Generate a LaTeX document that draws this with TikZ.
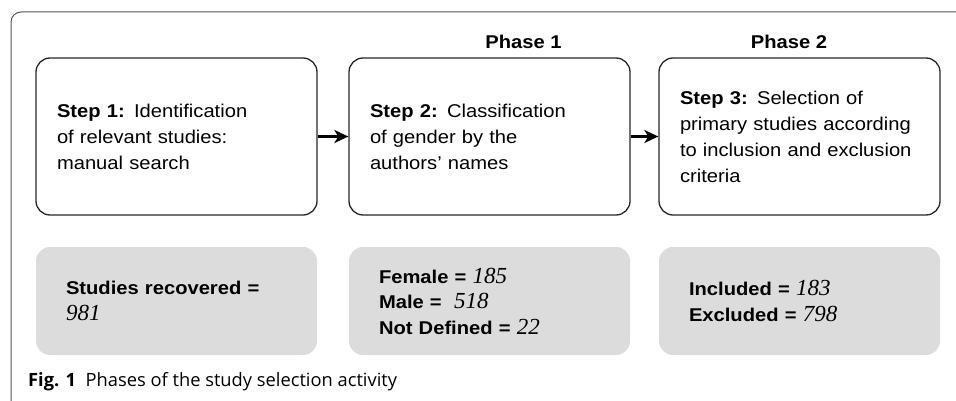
\documentclass[tikz,border=0pt]{standalone}
\usepackage{fontspec}
\setmainfont{Liberation Sans}[FakeStretch=1.09]
\newfontfamily\numfont{Liberation Serif}
\newfontfamily\capfont{Open Sans}
\usetikzlibrary{arrows.meta}
\definecolor{greybox}{HTML}{DCDCDC}
\definecolor{framecol}{HTML}{555555}
\newcommand{\nm}[1]{{\numfont\itshape\mdseries\fontsize{23}{25}\selectfont #1}}
\begin{document}
\begin{tikzpicture}[x=1pt,y=-1pt,
  stepbox/.style={draw=black!85,line width=1.3pt,rounded corners=14pt,
    minimum width=281pt,minimum height=157pt,text width=239pt,inner xsep=21pt,
    align=left,font=\fontsize{18.5}{26}\selectfont},
  resbox/.style={fill=greybox,rounded corners=14pt,
    minimum width=281pt,minimum height=108pt,text width=221pt,inner xsep=30pt,
    align=left,font=\fontsize{18.5}{25.5}\selectfont\bfseries},
  phaselbl/.style={font=\fontsize{18.5}{22}\selectfont\bfseries},
  flow/.style={line width=2.2pt,-{Stealth[length=14pt,width=13pt,inset=4pt]}},
  num/.style={}]
\useasboundingbox (0,0) rectangle (956,401);
\draw[framecol,line width=1pt,rounded corners=10pt] (11,402) -- (11,12) -- (960,12);
\node[phaselbl] (p1) at (523.5,42) {Phase 1};
\node[phaselbl] (p2) at (789,42) {Phase 2};
\node[stepbox] (s1) at (176.5,136.5) {\textbf{Step 1:} Identification\\of relevant studies:\\manual search};
\node[stepbox] (s2) at (489.5,136.5) {\textbf{Step 2:} Classification\\of gender by the\\authors' names};
\node[stepbox] (s3) at (799.5,136.5) {\textbf{Step 3:} Selection of\\primary studies according\\to inclusion and exclusion\\criteria};
\draw[flow] (s1.east) -- (s2.west);
\draw[flow] (s2.east) -- (s3.west);
\node[resbox] (r1) at (176.5,301) {Studies recovered =\\\nm{981}};
\node[resbox] (r2) at (489.5,301) {Female = \nm{185}\\Male = \ \nm{518}\\Not Defined = \nm{22}};
\node[resbox] (r3) at (799.5,301) {Included = \nm{183}\\Excluded = \nm{798}};
\node[anchor=west,inner sep=0pt,font=\capfont\fontsize{18.3}{20}\selectfont] (cap) at (28,382) {\textbf{Fig. 1}\ \ Phases of the study selection activity};
\end{tikzpicture}
\end{document}
